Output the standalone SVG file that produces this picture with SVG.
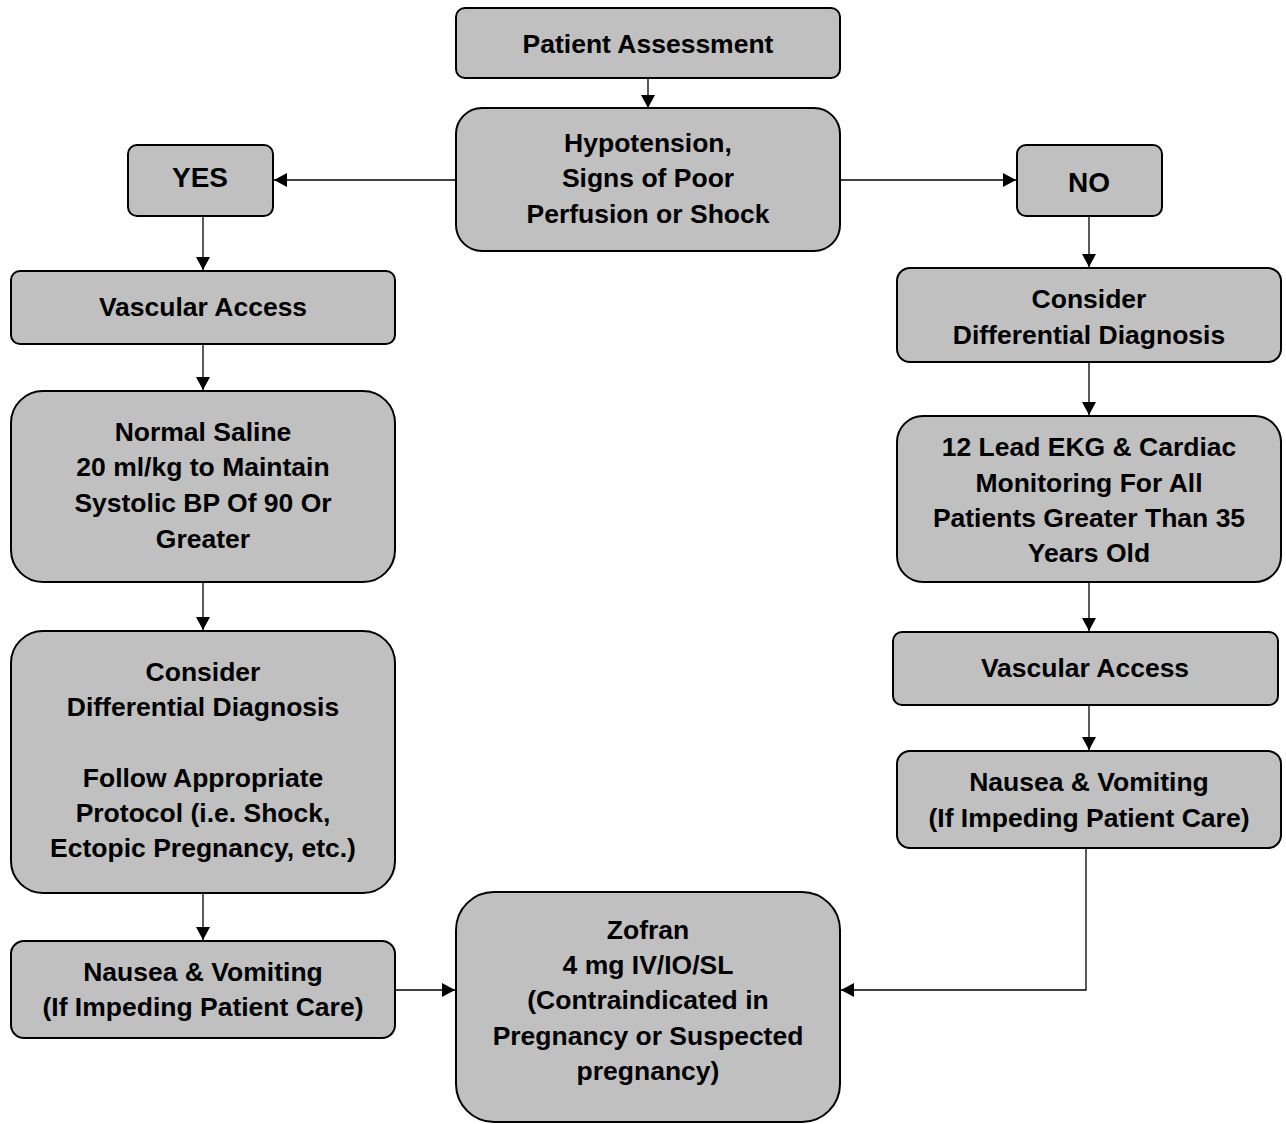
<svg xmlns="http://www.w3.org/2000/svg" width="1286" height="1124" viewBox="0 0 1286 1124">
  <style>
    .box { fill: #c0c0c0; stroke: #000; stroke-width: 2; }
    .lbl { font-family: "Liberation Sans", Arial, sans-serif; font-weight: bold; font-size: 26.5px; fill: #000; text-anchor: middle; }
    .big { font-size: 28px; }
    .wire { fill: none; stroke: #000; stroke-width: 1.3; }
  </style>
  <defs>
    <marker id="arrow" markerUnits="userSpaceOnUse" markerWidth="14" markerHeight="14" refX="13" refY="7" orient="auto">
      <path d="M0,0 L13,7 L0,14 Z" fill="#000"/>
    </marker>
  </defs>
  <rect width="1286" height="1124" fill="#fff"/>

  <!-- connectors -->
  <g id="connectors" class="wire" marker-end="url(#arrow)">
    <line x1="648" y1="78" x2="648" y2="108"/>
    <line x1="456" y1="180" x2="274" y2="180"/>
    <line x1="840" y1="180" x2="1016" y2="180"/>
    <line x1="203" y1="216" x2="203" y2="270"/>
    <line x1="203" y1="344" x2="203" y2="390"/>
    <line x1="203" y1="582" x2="203" y2="630"/>
    <line x1="203" y1="893" x2="203" y2="940"/>
    <line x1="395" y1="990" x2="455" y2="990"/>
    <line x1="1089" y1="216" x2="1089" y2="267"/>
    <line x1="1089" y1="362" x2="1089" y2="415"/>
    <line x1="1089" y1="582" x2="1089" y2="631"/>
    <line x1="1089" y1="705" x2="1089" y2="750"/>
    <polyline points="1086,848 1086,990 841,990"/>
  </g>

  <g id="patient-assessment">
    <rect class="box" x="456" y="8" width="384" height="70" rx="9"/>
    <text class="lbl" x="648" y="53">Patient Assessment</text>
  </g>

  <g id="hypotension">
    <rect class="box" x="456" y="108" width="384" height="143" rx="26"/>
    <text class="lbl" x="648" y="152">Hypotension,</text>
    <text class="lbl" x="648" y="187">Signs of Poor</text>
    <text class="lbl" x="648" y="223">Perfusion or Shock</text>
  </g>

  <g id="yes">
    <rect class="box" x="128" y="145" width="145" height="71" rx="9"/>
    <text class="lbl big" x="200" y="187">YES</text>
  </g>

  <g id="no">
    <rect class="box" x="1017" y="145" width="145" height="71" rx="9"/>
    <text class="lbl big" x="1089" y="192">NO</text>
  </g>

  <g id="vascular-access-left">
    <rect class="box" x="11" y="271" width="384" height="73" rx="9"/>
    <text class="lbl" x="203" y="316">Vascular Access</text>
  </g>

  <g id="normal-saline">
    <rect class="box" x="11" y="391" width="384" height="191" rx="32"/>
    <text class="lbl" x="203" y="441">Normal Saline</text>
    <text class="lbl" x="203" y="476">20 ml/kg to Maintain</text>
    <text class="lbl" x="203" y="512">Systolic BP Of 90 Or</text>
    <text class="lbl" x="203" y="548">Greater</text>
  </g>

  <g id="differential-left">
    <rect class="box" x="11" y="631" width="384" height="262" rx="32"/>
    <text class="lbl" x="203" y="681">Consider</text>
    <text class="lbl" x="203" y="716">Differential Diagnosis</text>
    <text class="lbl" x="203" y="787">Follow Appropriate</text>
    <text class="lbl" x="203" y="822">Protocol (i.e. Shock,</text>
    <text class="lbl" x="203" y="857">Ectopic Pregnancy, etc.)</text>
  </g>

  <g id="nausea-left">
    <rect class="box" x="11" y="941" width="384" height="97" rx="13"/>
    <text class="lbl" x="203" y="981">Nausea &amp; Vomiting</text>
    <text class="lbl" x="203" y="1016">(If Impeding Patient Care)</text>
  </g>

  <g id="zofran">
    <rect class="box" x="456" y="892" width="384" height="230" rx="38"/>
    <text class="lbl" x="648" y="939">Zofran</text>
    <text class="lbl" x="648" y="974">4 mg IV/IO/SL</text>
    <text class="lbl" x="648" y="1009">(Contraindicated in</text>
    <text class="lbl" x="648" y="1045">Pregnancy or Suspected</text>
    <text class="lbl" x="648" y="1080">pregnancy)</text>
  </g>

  <g id="differential-right">
    <rect class="box" x="897" y="268" width="384" height="94" rx="13"/>
    <text class="lbl" x="1089" y="308">Consider</text>
    <text class="lbl" x="1089" y="344">Differential Diagnosis</text>
  </g>

  <g id="ekg">
    <rect class="box" x="897" y="416" width="384" height="166" rx="26"/>
    <text class="lbl" x="1089" y="456">12 Lead EKG &amp; Cardiac</text>
    <text class="lbl" x="1089" y="492">Monitoring For All</text>
    <text class="lbl" x="1089" y="527">Patients Greater Than 35</text>
    <text class="lbl" x="1089" y="562">Years Old</text>
  </g>

  <g id="vascular-access-right">
    <rect class="box" x="893" y="632" width="385" height="73" rx="9"/>
    <text class="lbl" x="1085" y="677">Vascular Access</text>
  </g>

  <g id="nausea-right">
    <rect class="box" x="897" y="751" width="384" height="97" rx="13"/>
    <text class="lbl" x="1089" y="791">Nausea &amp; Vomiting</text>
    <text class="lbl" x="1089" y="827">(If Impeding Patient Care)</text>
  </g>
</svg>
